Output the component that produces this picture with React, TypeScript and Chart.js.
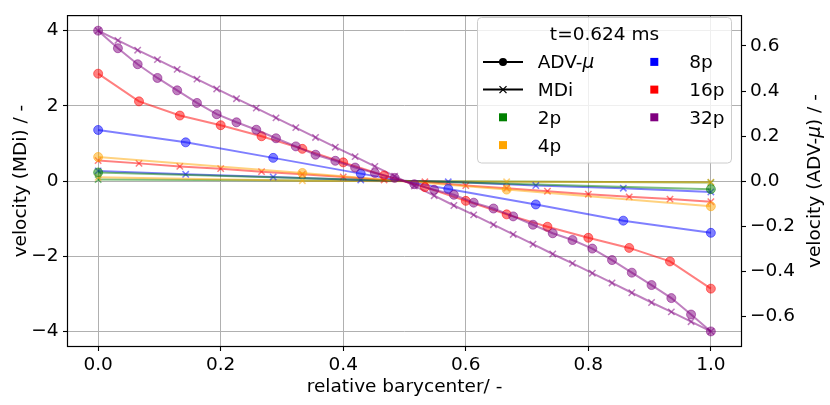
import { useEffect, useRef } from "react";
import { Chart, registerables } from "chart.js";
Chart.register(...registerables);

const FONT = '"DejaVu Sans"';
const FS = 18.5;

// x positions (relative barycenter)
const x2 = [0, 1];
const x4 = [0, 0.3333, 0.6667, 1];
const x8 = [0, 0.1429, 0.2857, 0.4286, 0.5714, 0.7143, 0.8571, 1];
const x16 = [0, 0.0667, 0.1333, 0.2, 0.2667, 0.3333, 0.4, 0.4667, 0.5333, 0.6, 0.6667, 0.7333, 0.8, 0.8667, 0.9333, 1];
const x32 = [0, 0.0323, 0.0645, 0.0968, 0.129, 0.1613, 0.1935, 0.2258, 0.2581, 0.2903, 0.3226, 0.3548, 0.3871, 0.4194, 0.4516, 0.4839,
  0.5161, 0.5484, 0.5806, 0.6129, 0.6452, 0.6774, 0.7097, 0.7419, 0.7742, 0.8065, 0.8387, 0.871, 0.9032, 0.9355, 0.9677, 1];

// MDi velocities (left axis)
const mdi2 = [0.04, -0.04];
const mdi4 = [0.1, 0.01, -0.02, -0.03];
const mdi8 = [0.27, 0.18, 0.11, 0.03, -0.02, -0.12, -0.19, -0.29];
const mdi16 = [0.545, 0.47, 0.39, 0.33, 0.25, 0.18, 0.11, 0.03, -0.02, -0.12, -0.19, -0.27, -0.35, -0.42, -0.48, -0.55];
const mdi32 = [4.0, 3.74, 3.48, 3.23, 2.97, 2.71, 2.45, 2.19, 1.94, 1.68, 1.42, 1.16, 0.9, 0.65, 0.39, 0.13,
  -0.13, -0.39, -0.65, -0.9, -1.16, -1.42, -1.68, -1.94, -2.19, -2.45, -2.71, -2.97, -3.23, -3.48, -3.74, -4.0];

// ADV-mu velocities (right axis)
const adv2 = [0.038, -0.036];
const adv4 = [0.107, 0.036, -0.038, -0.112];
const adv8 = [0.227, 0.172, 0.103, 0.033, -0.035, -0.104, -0.176, -0.23];
const adv16 = [0.477, 0.354, 0.291, 0.248, 0.199, 0.143, 0.083, 0.025, -0.027, -0.088, -0.148, -0.203, -0.252, -0.297, -0.357, -0.478];
const adv32 = [0.668, 0.59, 0.519, 0.458, 0.403, 0.347, 0.297, 0.261, 0.228, 0.19, 0.154, 0.117, 0.09, 0.06, 0.036, 0.014,
  -0.014, -0.039, -0.061, -0.096, -0.122, -0.157, -0.194, -0.232, -0.262, -0.3, -0.351, -0.407, -0.462, -0.52, -0.593, -0.668];

const seriesNames = ["2p", "4p", "8p", "16p", "32p"];
const seriesColors = ["#008000", "#ffa500", "#0000ff", "#ff0000", "#800080"];

const xTicks = [0, 0.2, 0.4, 0.6, 0.8, 1.0];
const yLeftTicks = [-4, -2, 0, 2, 4];
const yRightTicks = [-0.6, -0.4, -0.2, 0, 0.2, 0.4, 0.6];

const legendTitle = "t=0.624 ms";
const xTitle = "relative barycenter/ -";
const yLeftTitle = "velocity (MDi) / -";

function rgba(hex: string, a: number) {
  const r = parseInt(hex.slice(1, 3), 16);
  const g = parseInt(hex.slice(3, 5), 16);
  const b = parseInt(hex.slice(5, 7), 16);
  return `rgba(${r},${g},${b},${a})`;
}
const minus = (s: string) => s.replace("-", "\u2212");

export default function App() {
  const ref = useRef<HTMLCanvasElement>(null);
  useEffect(() => {
    document.body.style.margin = "0";
    const canvas = ref.current!;
    const xs = [x2, x4, x8, x16, x32];
    const mdis = [mdi2, mdi4, mdi8, mdi16, mdi32];
    const advs = [adv2, adv4, adv8, adv16, adv32];

    const datasets: any[] = [];
    // ADV first (drawn on top)
    for (let k = seriesNames.length - 1; k >= 0; k--) {
      const c = seriesColors[k];
      datasets.push({
        label: "ADV " + seriesNames[k],
        data: xs[k].map((x, i) => ({ x, y: advs[k][i] })),
        yAxisID: "y2",
        showLine: true,
        borderColor: rgba(c, 0.5),
        backgroundColor: rgba(c, 0.5),
        borderWidth: 2,
        pointStyle: "circle",
        pointRadius: 4.5,
        pointBorderWidth: 1,
        pointBorderColor: rgba(c, 0.5),
        pointBackgroundColor: rgba(c, 0.5),
      });
    }
    for (let k = seriesNames.length - 1; k >= 0; k--) {
      const c = seriesColors[k];
      datasets.push({
        label: "MDi " + seriesNames[k],
        data: xs[k].map((x, i) => ({ x, y: mdis[k][i] })),
        yAxisID: "y",
        showLine: true,
        borderColor: rgba(c, 0.5),
        backgroundColor: rgba(c, 0.5),
        borderWidth: 2,
        pointStyle: "crossRot",
        pointRadius: 4.5,
        pointBorderWidth: 1.5,
        pointBorderColor: rgba(c, 0.5),
      });
    }

    const A = { left: 67.5, right: 741.5, top: 8.3, bottom: 346.5 };

    const decor = {
      id: "decor",
      afterDatasetsDraw(chart: any) {
        const ctx = chart.ctx as CanvasRenderingContext2D;
        const ca = chart.chartArea;
        ctx.save();
        ctx.strokeStyle = "#000";
        ctx.lineWidth = 1.2;
        ctx.strokeRect(ca.left, ca.top, ca.right - ca.left, ca.bottom - ca.top);
        ctx.restore();
      },
      afterDraw(chart: any) {
        const ctx = chart.ctx as CanvasRenderingContext2D;
        const ca = chart.chartArea;
        const font = `${FS}px ${FONT}`;
        const ifont = `italic ${FS}px ${FONT}`;
        ctx.save();
        ctx.fillStyle = "#000";
        // x title
        ctx.font = font;
        ctx.textAlign = "center";
        ctx.textBaseline = "alphabetic";
        ctx.fillText(xTitle, (ca.left + ca.right) / 2, 391.5);
        // left title
        const cy = (ca.top + ca.bottom) / 2;
        ctx.save();
        ctx.translate(25.5, cy);
        ctx.rotate(-Math.PI / 2);
        ctx.fillText(yLeftTitle, 0, 0);
        ctx.restore();
        // right title with italic mu
        const parts: [string, string][] = [["velocity (ADV-", font], ["\u03bc", ifont], [") / -", font]];
        let total = 0;
        for (const [t, f] of parts) { ctx.font = f; total += ctx.measureText(t).width; }
        ctx.save();
        ctx.translate(820, cy);
        ctx.rotate(-Math.PI / 2);
        ctx.textAlign = "left";
        let px = -total / 2;
        for (const [t, f] of parts) { ctx.font = f; ctx.fillText(t, px, 0); px += ctx.measureText(t).width; }
        ctx.restore();

        // legend
        const bx = 477.5, by = 17.5, bw = 254, bh = 145.5;
        ctx.beginPath();
        (ctx as any).roundRect(bx, by, bw, bh, 4);
        ctx.fillStyle = "rgba(255,255,255,0.8)";
        ctx.fill();
        ctx.strokeStyle = "#cccccc";
        ctx.lineWidth = 1;
        ctx.stroke();

        ctx.fillStyle = "#000";
        ctx.font = font;
        ctx.textAlign = "center";
        ctx.textBaseline = "alphabetic";
        ctx.fillText(legendTitle, bx + bw / 2, 40);

        const rowBase = [68.3, 96, 123.7, 151.5];
        const mOff = 6.4;
        const c1m = 503, c1t = 537.7, c2m = 654.3, c2t = 689.3;
        ctx.textAlign = "left";
        // ADV-mu entry
        ctx.strokeStyle = "#000";
        ctx.lineWidth = 2;
        let my = rowBase[0] - mOff;
        ctx.beginPath(); ctx.moveTo(483, my); ctx.lineTo(523, my); ctx.stroke();
        ctx.beginPath(); ctx.arc(c1m, my, 4, 0, Math.PI * 2); ctx.fill();
        ctx.font = font;
        ctx.fillText("ADV-", c1t, rowBase[0]);
        const w = ctx.measureText("ADV-").width;
        ctx.font = ifont;
        ctx.fillText("\u03bc", c1t + w, rowBase[0]);
        // MDi entry
        my = rowBase[1] - mOff;
        ctx.beginPath(); ctx.moveTo(483, my); ctx.lineTo(523, my); ctx.stroke();
        ctx.lineWidth = 1.3;
        ctx.beginPath();
        ctx.moveTo(c1m - 3.5, my - 3.5); ctx.lineTo(c1m + 3.5, my + 3.5);
        ctx.moveTo(c1m - 3.5, my + 3.5); ctx.lineTo(c1m + 3.5, my - 3.5);
        ctx.stroke();
        ctx.font = font;
        ctx.fillText("MDi", c1t, rowBase[1]);
        // color entries
        const slots = [
          [c1m, c1t, 2], [c1m, c1t, 3], [c2m, c2t, 0], [c2m, c2t, 1], [c2m, c2t, 2],
        ];
        slots.forEach(([mx, tx, r], k) => {
          const yy = rowBase[r] - mOff;
          ctx.fillStyle = seriesColors[k];
          ctx.fillRect(mx - 4, yy - 4, 8, 8);
          ctx.fillStyle = "#000";
          ctx.fillText(seriesNames[k], tx, rowBase[r]);
        });
        ctx.restore();
      },
    };

    const chart = new Chart(canvas, {
      type: "scatter",
      data: { datasets },
      plugins: [decor],
      options: {
        animation: false,
        responsive: false,
        devicePixelRatio: 1,
        layout: { padding: { top: A.top, left: 0, right: 0, bottom: 0 } },
        plugins: { legend: { display: false }, tooltip: { enabled: false } },
        scales: {
          x: {
            type: "linear",
            min: -0.05,
            max: 1.05,
            border: { display: false },
            grid: { color: "#b0b0b0", lineWidth: 1, tickColor: "#000", tickLength: 4.5, tickWidth: 1.1 },
            ticks: {
              color: "#000",
              font: { family: "DejaVu Sans", size: FS },
              padding: 3,
              maxRotation: 0,
              autoSkip: false,
              callback: (v: any) => Number(v).toFixed(1),
            },
            afterBuildTicks: (s: any) => { s.ticks = xTicks.map((v) => ({ value: v })); },
            afterFit: (s: any) => { s.height = 405 - A.bottom; },
          },
          y: {
            type: "linear",
            position: "left",
            min: -4.4,
            max: 4.4,
            border: { display: false },
            grid: { color: "#b0b0b0", lineWidth: 1, tickColor: "#000", tickLength: 4.5, tickWidth: 1.1 },
            ticks: {
              color: "#000",
              font: { family: "DejaVu Sans", size: FS },
              padding: 4.5,
              autoSkip: false,
              callback: (v: any) => minus(String(Math.round(Number(v)))),
            },
            afterBuildTicks: (s: any) => { s.ticks = yLeftTicks.map((v) => ({ value: v })); },
            afterFit: (s: any) => { s.width = A.left; },
          },
          y2: {
            type: "linear",
            position: "right",
            min: -0.735,
            max: 0.735,
            border: { display: false },
            grid: { drawOnChartArea: false, tickColor: "#000", tickLength: 4.5, tickWidth: 1.1 },
            ticks: {
              color: "#000",
              font: { family: "DejaVu Sans", size: FS },
              padding: 4,
              autoSkip: false,
              callback: (v: any) => minus(Number(v).toFixed(1)),
            },
            afterBuildTicks: (s: any) => { s.ticks = yRightTicks.map((v) => ({ value: v })); },
            afterFit: (s: any) => { s.width = 830 - A.right; },
          },
        },
      } as any,
    });
    return () => chart.destroy();
  }, []);

  return (
    <div style={{ width: 830, height: 405, position: "relative", background: "#fff" }}>
      <canvas ref={ref} width={830} height={405} style={{ display: "block", width: 830, height: 405 }} />
    </div>
  );
}
